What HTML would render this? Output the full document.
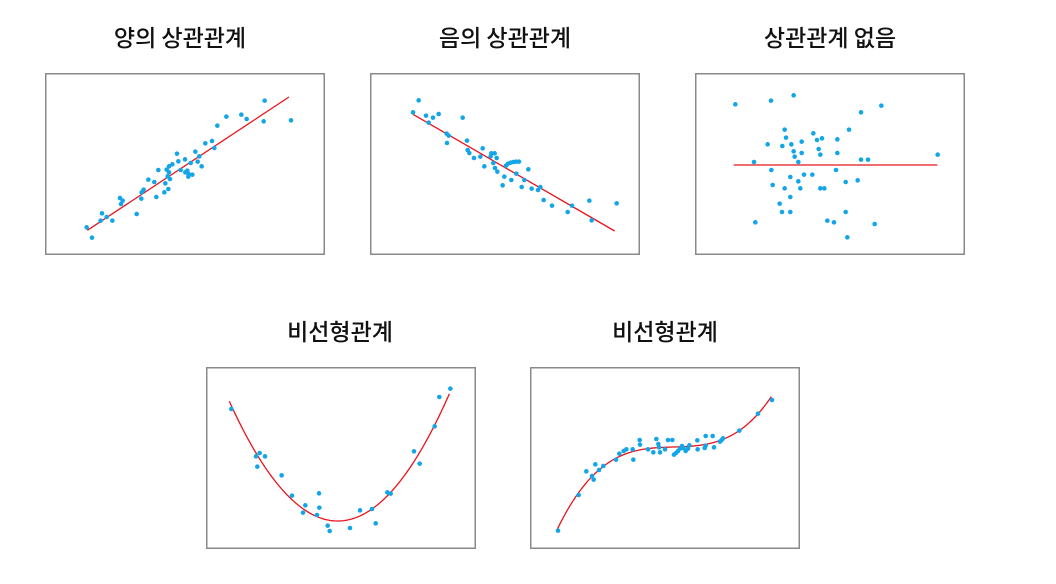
<!DOCTYPE html>
<html><head><meta charset="utf-8">
<style>
body{margin:0;background:#fff;width:1056px;height:584px;overflow:hidden;font-family:"Liberation Sans","Noto Sans CJK KR",sans-serif;}
svg{display:block}
</style></head>
<body>
<svg id="chart" width="1056" height="584" viewBox="0 0 1056 584" xmlns="http://www.w3.org/2000/svg"></svg>
<script>
// Data (units: arbitrary plot units, domain 0..3w by 0..3h of each panel, y downward)
const titles = ["양의 상관관계","음의 상관관계","상관관계 없음","비선형관계","비선형관계"];
const posX = [125,141,171,167,185,202,225,233,228,275,289,290,296,310,328,334,340,358,361,365,370,368,372,375,372,382,396,400,407,420,421,427,430,430,437,442,451,458,463,470,481,501,508,517,544,589,605,656,659,738];
const posY = [463,494,421,443,432,443,375,383,393,423,377,358,350,320,327,372,291,358,331,290,348,310,298,318,280,274,242,265,291,259,298,293,311,302,270,305,236,266,250,280,211,204,225,158,131,125,138,145,83,142];
const posLine = [127,472,732,72];
const negX = [129,146,168,176,189,206,278,230,236,231,291,293,298,312,331,338,343,364,374,362,380,370,375,382,398,403,408,414,422,430,438,447,424,439,455,463,475,485,504,511,521,546,593,606,658,665,740];
const negY = [118,82,128,149,134,123,134,182,188,210,203,231,240,255,251,226,280,241,241,250,255,270,285,296,337,311,278,272,269,267,266,266,321,302,342,321,289,347,351,342,381,398,417,398,383,442,391];
const negLine = [129,124,734,474];
const noneX = [121,228,296,498,559,269,273,218,262,289,320,355,366,381,427,462,296,299,320,371,376,427,310,177,498,519,728,229,423,286,327,352,310,452,488,233,269,316,376,388,286,254,261,286,452,397,417,181,539,457];
const noneY = [94,83,67,118,98,170,194,214,219,214,206,181,201,196,199,170,235,251,240,228,245,240,267,267,260,260,245,291,291,312,305,305,325,327,322,336,346,346,346,346,372,392,417,417,417,443,448,448,453,493];
const noneLine = [116,276,727,276];
const quadX = [76,150,161,177,154,227,258,298,291,339,340,333,365,371,432,462,498,509,544,554,624,641,686,700,733];
const quadY = [126,268,258,268,299,325,386,415,437,379,422,444,476,492,483,430,426,469,376,380,253,290,178,90,65];
const quadCoef = [395,462,0.0034]; // vertex x, vertex y, curvature
const quadRange = [70,733];
const cubX = [84,146,169,186,191,196,207,220,258,268,281,289,308,310,329,330,354,370,379,385,387,390,405,414,427,432,438,444,450,456,460,467,474,478,502,503,524,527,527,548,552,570,575,579,628,684,726];
const cubY = [491,384,313,327,338,292,309,297,278,260,252,247,247,278,219,233,247,256,216,231,241,256,247,219,219,263,258,252,245,237,243,252,245,235,220,247,243,207,236,207,241,224,219,214,191,140,99];
const cubCoef = [430,240,0.0000056,0.03]; // inflection x, y, cubic k, slope
const cubRange = [80,726];

const panels = [
 {x:45,y:73,w:280,h:182,tx:180,ty:46},
 {x:370,y:73,w:270,h:182,tx:505,ty:46},
 {x:695,y:73,w:270,h:182,tx:830,ty:46},
 {x:206,y:367,w:270,h:182,tx:340,ty:340},
 {x:530,y:367,w:270,h:182,tx:665,ty:340}
];
const svg=document.getElementById('chart');
const NS='http://www.w3.org/2000/svg';
function mk(t,a){const e=document.createElementNS(NS,t);for(const k in a)e.setAttribute(k,a[k]);svg.appendChild(e);return e;}
function sx(p,v){return p.x+v/3;}
function sy(p,v){return p.y+v/3;}

const sets=[[posX,posY],[negX,negY],[noneX,noneY],[quadX,quadY],[cubX,cubY]];
panels.forEach((p,i)=>{
  const t=mk('text',{x:p.tx,y:p.ty,'text-anchor':'middle','font-size':'23','font-weight':'500','fill':'#111','font-family':'"Noto Sans CJK KR","Liberation Sans",sans-serif'});
  t.textContent=titles[i];
  
  
  const r=mk('rect',{x:p.x+0.75,y:p.y+0.75,width:p.w-1.5,height:p.h-1.5,fill:'#fff',stroke:'#8a8a8a','stroke-width':1.5});
  
  
  let d='';
  if(i<3){
    const L=[posLine,negLine,noneLine][i];
    d=`M${sx(p,L[0])},${sy(p,L[1])}L${sx(p,L[2])},${sy(p,L[3])}`;
  } else if(i===3){
    for(let v=quadRange[0];v<=quadRange[1];v+=4){const y=quadCoef[1]-quadCoef[2]*(v-quadCoef[0])**2;d+=(d?'L':'M')+sx(p,v)+','+sy(p,y);}
  } else {
    for(let v=cubRange[0];v<=cubRange[1];v+=4){const u=v-cubCoef[0];const y=cubCoef[1]-cubCoef[2]*u*u*u-cubCoef[3]*u;d+=(d?'L':'M')+sx(p,v)+','+sy(p,y);}
  }
  const ln=mk('path',{d:d,fill:'none',stroke:'#e8141c','stroke-width':1.3});
  
  
  const [X,Y]=sets[i];
  X.forEach((v,j)=>{
    const c=mk('circle',{cx:sx(p,v),cy:sy(p,Y[j]),r:2.3,fill:'#12a6e8'});
    
    
  });
});
</script>
</body></html>
